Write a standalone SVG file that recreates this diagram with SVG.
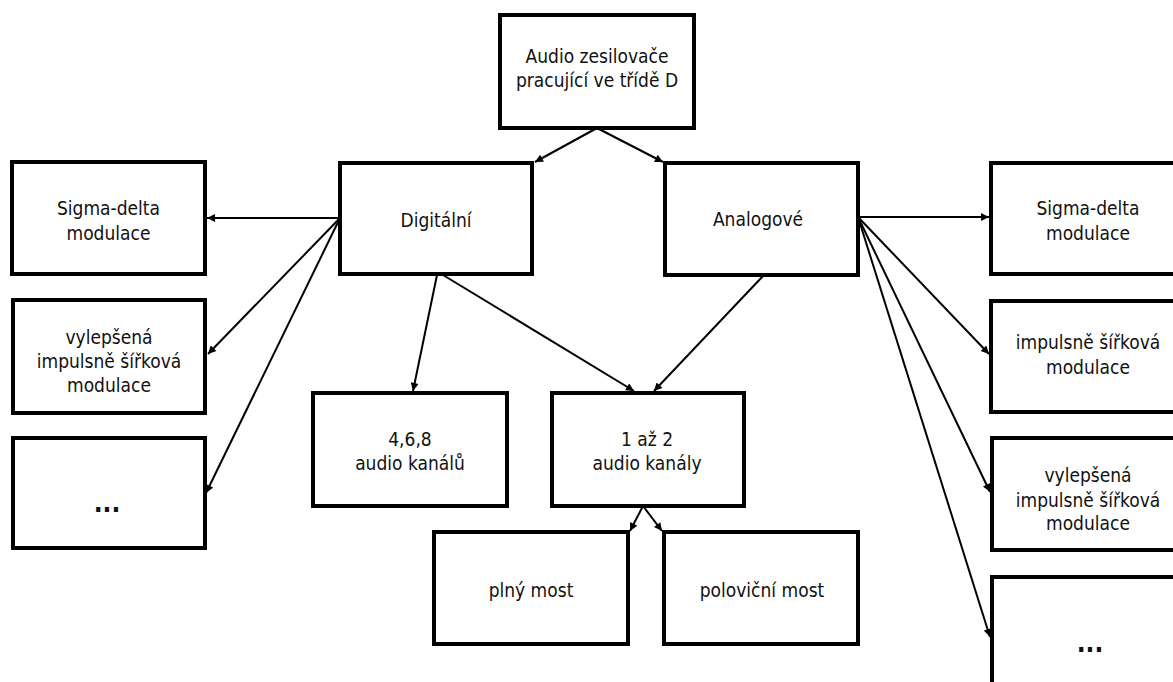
<svg xmlns="http://www.w3.org/2000/svg" width="1173" height="682" viewBox="0 0 1173 682">
<style>
.box{fill:#fff;stroke:#000;stroke-width:4}
.t{font-family:"DejaVu Sans Condensed","DejaVu Sans","Liberation Sans",sans-serif;font-stretch:condensed;font-size:19px;fill:#111;text-anchor:middle}
.dots{font-family:"DejaVu Sans Condensed","DejaVu Sans",sans-serif;font-size:26px;font-weight:bold;fill:#111;text-anchor:middle}
.c{stroke:#000;stroke-width:2;fill:none;marker-end:url(#ah)}
</style>
<defs>
<marker id="ah" viewBox="0 0 10 10" refX="10" refY="5" markerWidth="4.5" markerHeight="4" markerUnits="strokeWidth" orient="auto">
<path d="M0,0 L10,5 L0,10 z" fill="#000"/>
</marker>
</defs>
<rect width="1173" height="682" fill="#fff"/>
<g id="connectors">
<line class="c" x1="597" y1="128" x2="535" y2="162"/>
<line class="c" x1="597" y1="128" x2="663" y2="162"/>
<line class="c" x1="340" y1="218" x2="207" y2="218"/>
<line class="c" x1="340" y1="218" x2="208" y2="354"/>
<line class="c" x1="340" y1="218" x2="206" y2="493"/>
<line class="c" x1="437" y1="275" x2="413" y2="391"/>
<line class="c" x1="443" y1="275" x2="634" y2="391"/>
<line class="c" x1="763" y1="276" x2="654" y2="391"/>
<line class="c" x1="643" y1="506" x2="630" y2="531"/>
<line class="c" x1="643" y1="506" x2="662" y2="531"/>
<line class="c" x1="858" y1="217" x2="989" y2="217"/>
<line class="c" x1="858" y1="217" x2="989" y2="354"/>
<line class="c" x1="858" y1="217" x2="990" y2="492"/>
<line class="c" x1="858" y1="217" x2="990" y2="637"/>
</g>
<g id="n-top"><rect class="box" x="500" y="15" width="194" height="113"/><text class="t" x="597" y="63">Audio zesilovače</text><text class="t" x="597" y="87">pracující ve třídě D</text></g>
<g id="n-digital"><rect class="box" x="340" y="163" width="192" height="111"/><text class="t" x="436" y="227">Digitální</text></g>
<g id="n-analog"><rect class="box" x="665" y="163" width="193" height="112"/><text class="t" x="758" y="226">Analogové</text></g>
<g id="n-l-sigma"><rect class="box" x="12" y="162" width="193" height="112"/><text class="t" x="108.5" y="215">Sigma-delta</text><text class="t" x="108.5" y="240">modulace</text></g>
<g id="n-l-vyl"><rect class="box" x="13" y="300" width="192" height="113"/><text class="t" x="109" y="344">vylepšená</text><text class="t" x="109" y="368">impulsně šířková</text><text class="t" x="109" y="392">modulace</text></g>
<g id="n-l-more"><rect class="box" x="13" y="438" width="192" height="110"/><text class="dots" x="107" y="512">...</text></g>
<g id="n-468"><rect class="box" x="313" y="393" width="194" height="113"/><text class="t" x="410" y="446">4,6,8</text><text class="t" x="410" y="470">audio kanálů</text></g>
<g id="n-12"><rect class="box" x="552" y="393" width="192" height="113"/><text class="t" x="647" y="446">1 až 2</text><text class="t" x="647" y="470">audio kanály</text></g>
<g id="n-full"><rect class="box" x="434" y="532" width="194" height="112"/><text class="t" x="531" y="597">plný most</text></g>
<g id="n-half"><rect class="box" x="664" y="532" width="194" height="112"/><text class="t" x="762" y="597">poloviční most</text></g>
<g id="n-r-sigma"><rect class="box" x="991" y="163" width="193" height="111"/><text class="t" x="1088" y="215">Sigma-delta</text><text class="t" x="1088" y="240">modulace</text></g>
<g id="n-r-pwm"><rect class="box" x="991" y="301" width="193" height="111"/><text class="t" x="1088" y="349">impulsně šířková</text><text class="t" x="1088" y="374">modulace</text></g>
<g id="n-r-vyl"><rect class="box" x="992" y="438" width="193" height="112"/><text class="t" x="1088" y="482">vylepšená</text><text class="t" x="1088" y="507">impulsně šířková</text><text class="t" x="1088" y="530">modulace</text></g>
<g id="n-r-more"><rect class="box" x="992" y="577" width="193" height="115"/><text class="dots" x="1090" y="652">...</text></g>
</svg>
